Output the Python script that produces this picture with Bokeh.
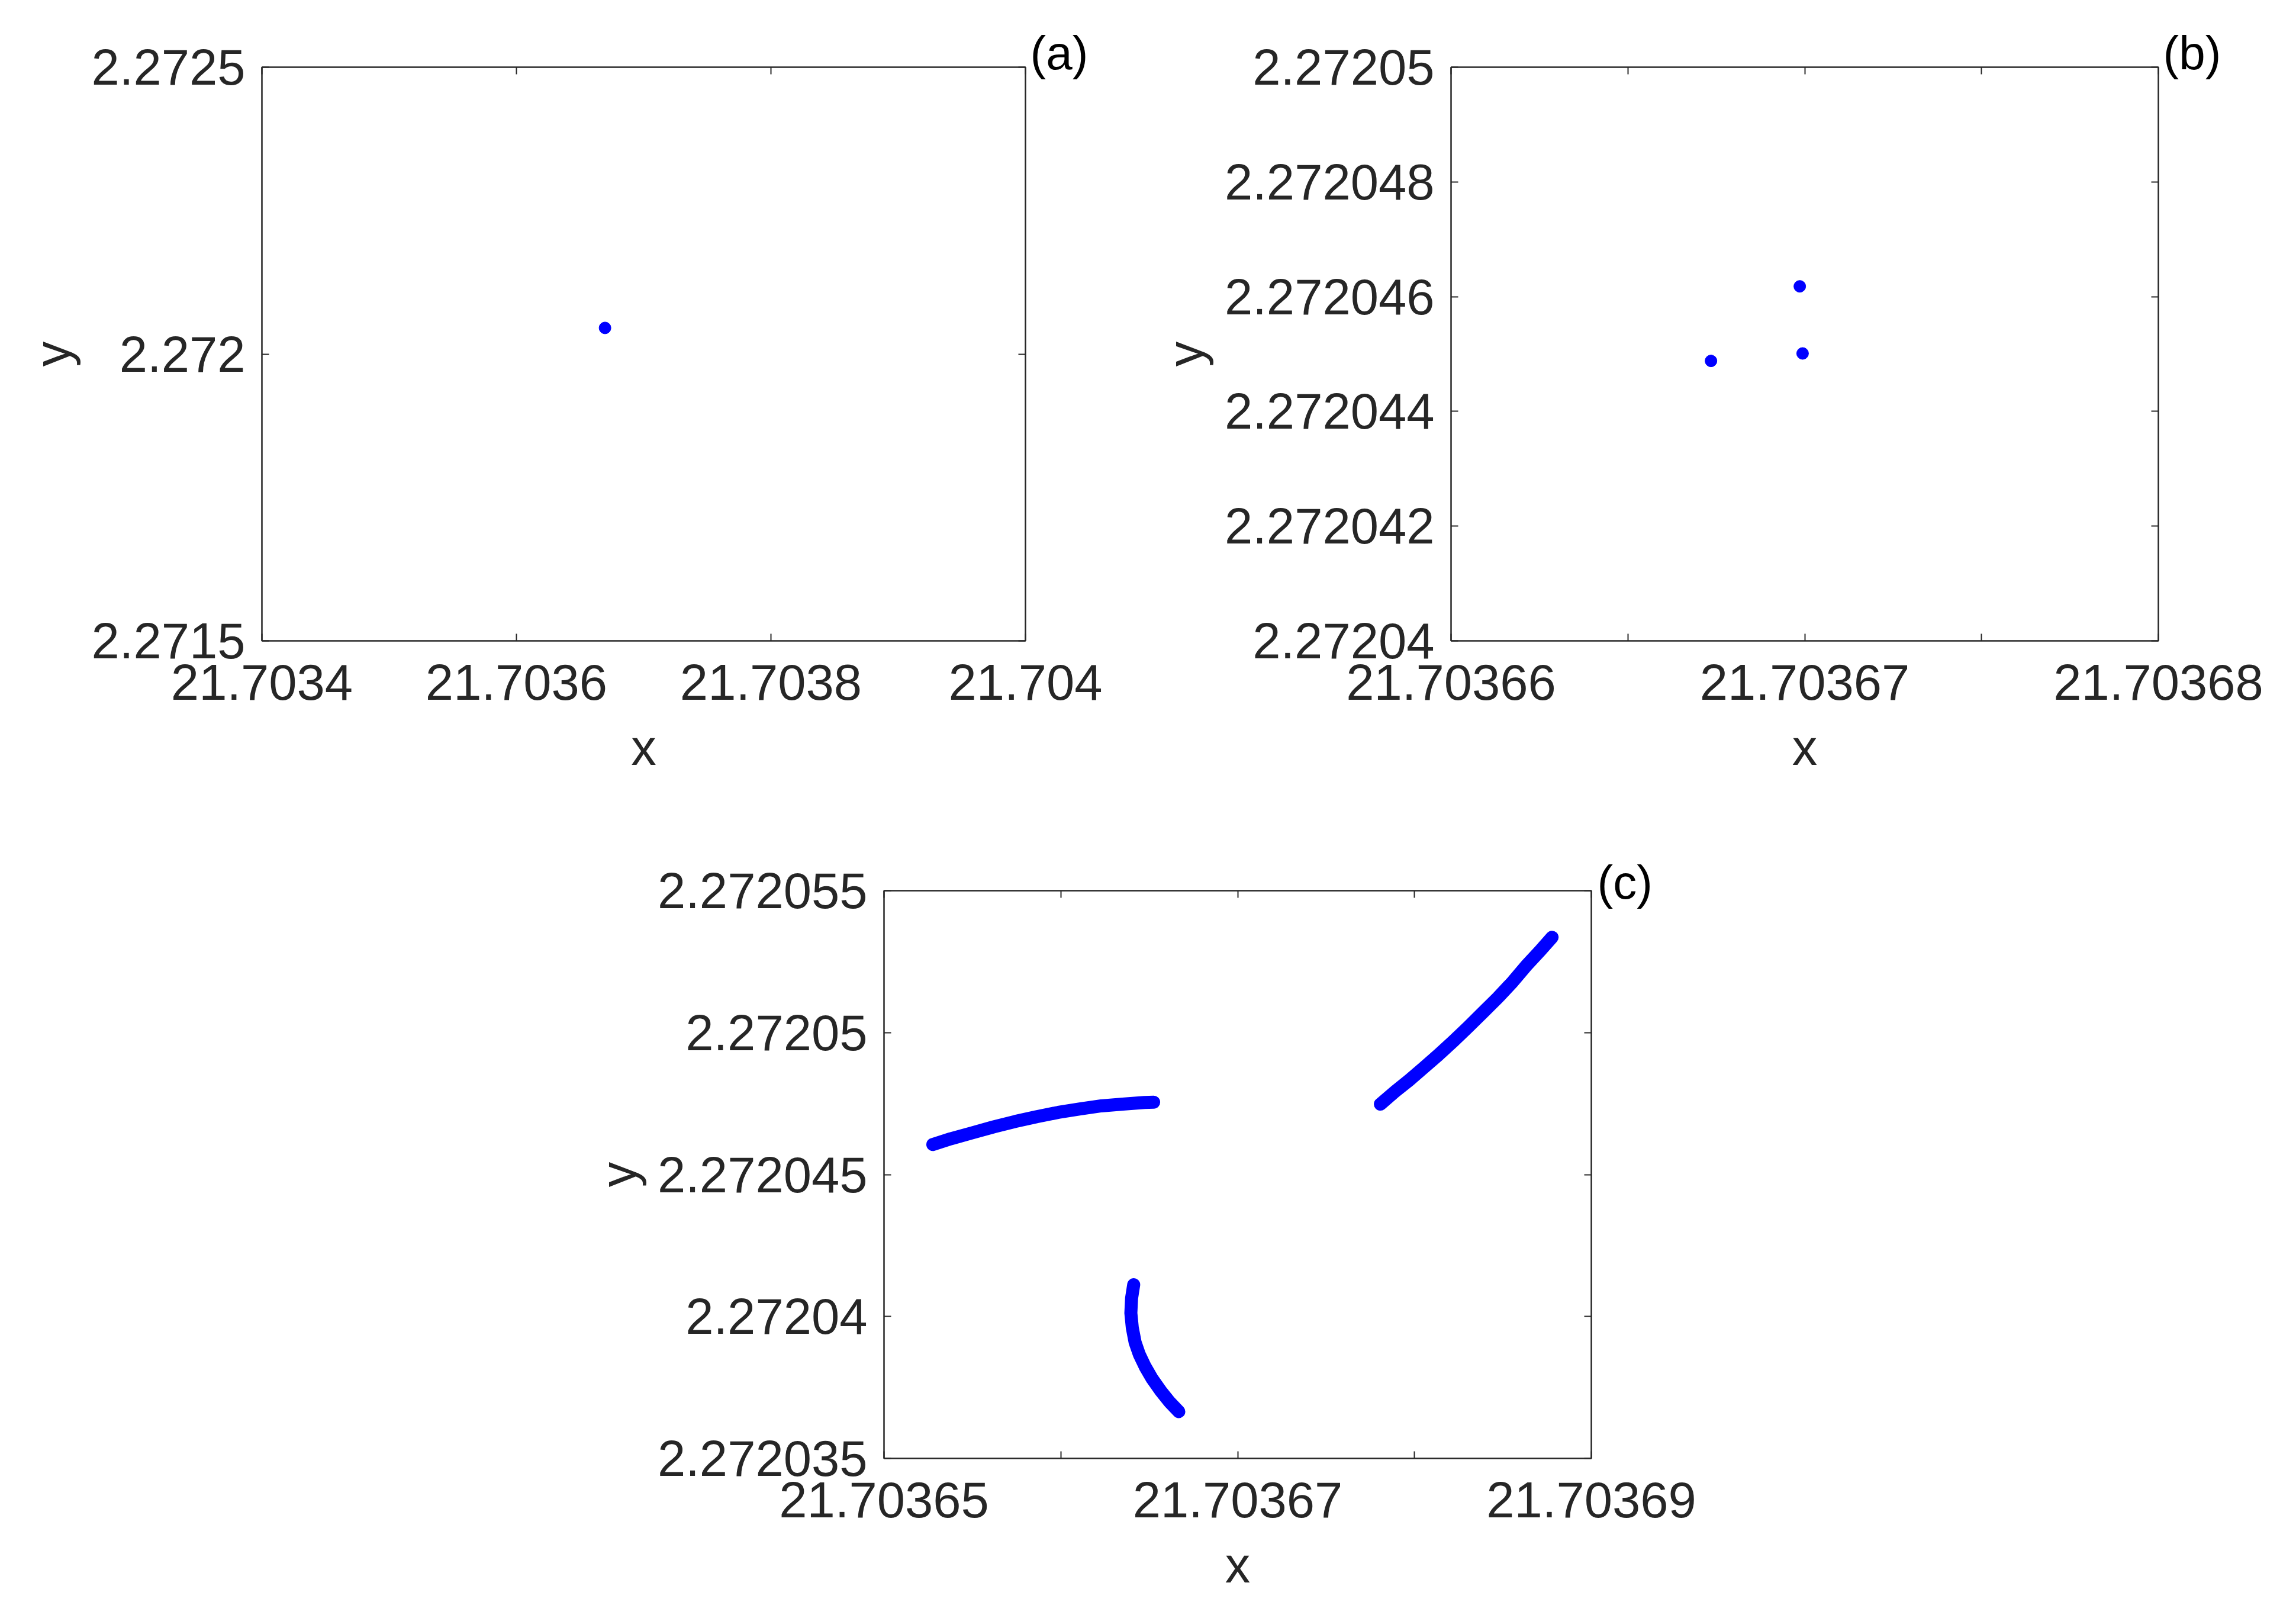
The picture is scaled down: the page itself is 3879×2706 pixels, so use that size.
from bokeh.plotting import figure
from bokeh.models import Range1d, FixedTicker, LinearAxis, Title, Spacer
from bokeh.layouts import column, row
from bokeh.embed import file_html
from bokeh.resources import INLINE

FONT = "Liberation Sans"
DARK = "#262626"
BLUE = "#0000FF"
TICK_FS = "85px"
LABEL_FS = "85px"
TAG_FS = "80px"

# ---------------- data ----------------
# Panel (a)
a_x = [21.7036696]
a_y = [2.2720455]
a_xticks = [21.7034, 21.7036, 21.7038, 21.704]
a_xlabels = ["21.7034", "21.7036", "21.7038", "21.704"]
a_yticks = [2.2715, 2.272, 2.2725]
a_ylabels = ["2.2715", "2.272", "2.2725"]

# Panel (b)
b_x = [21.70366735, 21.70366986, 21.70366994]
b_y = [2.27204488, 2.27204618, 2.27204501]
b_xticks = [21.70366, 21.703665, 21.70367, 21.703675, 21.70368]
b_xlabels = ["21.70366", "", "21.70367", "", "21.70368"]
b_yticks = [2.27204, 2.272042, 2.272044, 2.272046, 2.272048, 2.27205]
b_ylabels = ["2.27204", "2.272042", "2.272044", "2.272046", "2.272048", "2.27205"]

# Panel (c) - three curve segments
c1_x = [21.70365276, 21.70365377, 21.70365499, 21.70365621, 21.70365742, 21.70365864,
        21.70365986, 21.70366108, 21.70366229, 21.70366351, 21.70366473, 21.70366525]
c1_y = [2.27204606, 2.27204626, 2.27204647, 2.27204668, 2.27204687, 2.27204704,
        2.27204719, 2.27204731, 2.27204742, 2.27204748, 2.27204754, 2.27204755]
c2_x = [21.70366412, 21.70366400, 21.70366396, 21.70366404, 21.70366420, 21.70366444,
        21.70366477, 21.70366517, 21.70366566, 21.70366615, 21.70366667]
c2_y = [2.27204112, 2.27204064, 2.27204012, 2.27203961, 2.27203909, 2.27203866,
        2.27203823, 2.27203780, 2.27203737, 2.27203699, 2.27203665]
c3_x = [21.70367807, 21.70367891, 21.70367969, 21.70368053, 21.70368136, 21.70368220,
        21.70368304, 21.70368387, 21.70368471, 21.70368555, 21.70368638, 21.70368711,
        21.70368778]
c3_y = [2.27204748, 2.27204793, 2.27204832, 2.27204877, 2.27204922, 2.27204970,
        2.27205020, 2.27205071, 2.27205123, 2.27205179, 2.27205240, 2.27205289,
        2.27205336]
c_xticks = [21.70365, 21.70366, 21.70367, 21.70368, 21.70369]
c_xlabels = ["21.70365", "", "21.70367", "", "21.70369"]
c_yticks = [2.272035, 2.27204, 2.272045, 2.27205, 2.272055]
c_ylabels = ["2.272035", "2.27204", "2.272045", "2.27205", "2.272055"]


def style_axis(ax, ticks, labels, show_labels=True):
    ax.ticker = FixedTicker(ticks=ticks)
    ax.major_label_overrides = dict(zip(ticks, labels if show_labels else [""] * len(ticks)))
    ax.major_tick_in = 12
    ax.major_tick_out = 0
    ax.minor_tick_line_color = None
    ax.major_tick_line_color = DARK
    ax.major_tick_line_width = 2
    ax.axis_line_color = DARK
    ax.axis_line_width = 2
    ax.major_label_text_font = FONT
    ax.major_label_text_font_size = TICK_FS if show_labels else "1px"
    ax.major_label_text_color = DARK
    ax.axis_label_text_font = FONT
    ax.axis_label_text_font_size = LABEL_FS
    ax.axis_label_text_font_style = "normal"
    ax.axis_label_text_color = DARK


def make_panel(xr, yr, xticks, xlabels, yticks, ylabels, lb, rb, tb, bb, fw, fh, tag, tag_dx, tag_standoff):
    p = figure(width=lb + fw + rb, height=tb + fh + bb,
               x_range=Range1d(xr[0], xr[1]), y_range=Range1d(yr[0], yr[1]),
               output_backend="svg", toolbar_location=None,
               min_border_left=lb, min_border_right=rb,
               min_border_top=tb, min_border_bottom=bb,
               x_axis_label="x", y_axis_label="y")
    p.grid.visible = False
    p.outline_line_color = DARK
    p.outline_line_width = 2
    p.background_fill_color = "white"
    p.border_fill_color = "white"
    style_axis(p.xaxis[0], xticks, xlabels)
    style_axis(p.yaxis[0], yticks, ylabels)
    p.xaxis.major_label_standoff = 40
    p.xaxis.axis_label_standoff = 30
    p.yaxis.major_label_standoff = 28
    p.yaxis.axis_label_standoff = 16
    top = LinearAxis()
    style_axis(top, xticks, xlabels, show_labels=False)
    p.add_layout(top, "above")
    right = LinearAxis()
    style_axis(right, yticks, ylabels, show_labels=False)
    p.add_layout(right, "right")
    p.add_layout(Title(text=tag, align="left", offset=fw + tag_dx, standoff=tag_standoff,
                       text_font=FONT, text_font_size=TAG_FS, text_font_style="normal",
                       text_color="black"), "above")
    return p


pa = make_panel((21.7034, 21.704), (2.2715, 2.2725), a_xticks, a_xlabels, a_yticks, a_ylabels,
                lb=442, rb=198, tb=113, bb=250, fw=1290, fh=969, tag="(a)", tag_dx=8, tag_standoff=-41)
pa.scatter(a_x, a_y, size=20, color=BLUE)

pb = make_panel((21.70366, 21.70368), (2.27204, 2.27205), b_xticks, b_xlabels, b_yticks, b_ylabels,
                lb=521, rb=200, tb=113, bb=250, fw=1195, fh=969, tag="(b)", tag_dx=8, tag_standoff=-40)
pb.scatter(b_x, b_y, size=20, color=BLUE)

pc = make_panel((21.70365, 21.70369), (2.272035, 2.272055), c_xticks, c_xlabels, c_yticks, c_ylabels,
                lb=520, rb=200, tb=172, bb=220, fw=1195, fh=969, tag="(c)", tag_dx=10, tag_standoff=-60)
for cx, cy in ((c1_x, c1_y), (c2_x, c2_y), (c3_x, c3_y)):
    pc.line(cx, cy, line_width=22, color=BLUE, line_cap="round", line_join="round")

layout = column(row(pa, pb), row(Spacer(width=973, height=1361), pc))

open("out.html", "w").write(file_html(layout, INLINE))
